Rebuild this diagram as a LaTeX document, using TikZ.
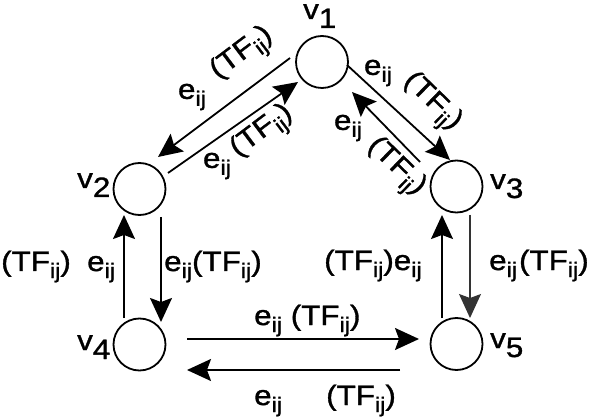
\documentclass[tikz,border=0pt]{standalone}
\usepackage{fontspec}
\setmainfont{Liberation Sans}[FakeStretch=1.12,FakeBold=1.2]
\usetikzlibrary{arrows.meta,calc}
\newcommand{\sbij}{\raisebox{-7pt}{\fontsize{21}{21}\selectfont ij}}
\newcommand{\eij}{e\sbij}
\newcommand{\tfij}{(TF\sbij)}
\newcommand{\vlab}[1]{v\raisebox{-9pt}{#1}}
\begin{document}
\begin{tikzpicture}[x=1pt,y=-1pt,
  vtx/.style={circle,draw,line width=1.8pt,minimum size=52pt,inner sep=0pt},
  lab/.style={inner sep=0pt,font=\fontsize{28}{32}\selectfont},
  arr/.style={line width=1.8pt,-{Stealth[length=24pt,width=22pt,inset=4pt]}},
  thinarr/.style={arr,line width=1.2pt,draw=black!80,fill=black!80},
]
\useasboundingbox (0,0) rectangle (596,419);
% vertices
\node[vtx] (v1) at (322,62) {};
\node[vtx] (v2) at (139.5,189) {};
\node[vtx] (v3) at (456.5,186.5) {};
\node[vtx] (v4) at (139.5,344.5) {};
\node[vtx] (v5) at (456.5,344) {};
% vertex labels
\node[lab,anchor=base west] (l1) at (303,19) {\vlab{1}};
\node[lab,anchor=base west] (l2) at (77,188) {\vlab{2}};
\node[lab,anchor=base west] (l3) at (490,189) {\vlab{3}};
\node[lab,anchor=base west] (l4) at (77,350) {\vlab{4}};
\node[lab,anchor=base west] (l5) at (490,348) {\vlab{5}};
% connectors
\draw[arr] ($(v1)+(-32,-4)$) -- ($(v2)+(18.5,-32)$);
\draw[arr] ($(v2)+(28.5,-16)$) -- ($(v1)+(-24,20)$);
\draw[arr] ($(v1)+(25,3)$) -- ($(v3)+(-6.5,-26.5)$);
\draw[arr] ($(v3)+(-36.5,-24.5)$) -- ($(v1)+(30,30)$);
\draw[arr] ($(v4)+(-15.5,-26.5)$) -- ($(v2)+(-15.5,26)$);
\draw[arr] ($(v2)+(21.5,28)$) -- ($(v4)+(21.5,-22.5)$);
\draw[arr] ($(v4)+(47.5,-5.5)$) -- ($(v5)+(-37.5,-5)$);
\draw[arr] ($(v5)+(-56.5,26)$) -- ($(v4)+(47.5,25.5)$);
\draw[arr] ($(v5)+(-14.5,-26)$) -- ($(v3)+(-14.5,28.5)$);
\draw[thinarr] ($(v3)+(13.5,28.5)$) -- ($(v5)+(13.5,-26)$);
% diagonal labels
\node[lab] (a1) at (192,97) {\eij};
\node[lab,rotate=37] (a2) at (243,55) {\tfij};
\node[lab] (b1) at (217,166) {\eij};
\node[lab,rotate=37] (b2) at (263,133) {\tfij};
\node[lab] (c1) at (378,73) {\eij};
\node[lab,rotate=-44] (c2) at (431,103) {\tfij};
\node[lab] (d1) at (348,128) {\eij};
\node[lab,rotate=-44] (d2) at (395,168) {\tfij};
% vertical labels
\node[lab,anchor=base west] (e1) at (1,271) {\tfij};
\node[lab,anchor=base west] (e2) at (87,271) {\eij};
\node[lab,anchor=base west] (e3) at (164,271) {\eij\tfij};
\node[lab,anchor=base west] (e4) at (324,270) {\tfij\eij};
\node[lab,anchor=base west] (e5) at (489,270) {\eij\hspace{2pt}\tfij};
% horizontal labels
\node[lab,anchor=base west] (h1) at (254,325) {\eij\ \tfij};
\node[lab,anchor=base west] (h2) at (254,405) {\eij};
\node[lab,anchor=base west] (h3) at (326,405) {\tfij};
\end{tikzpicture}
\end{document}
